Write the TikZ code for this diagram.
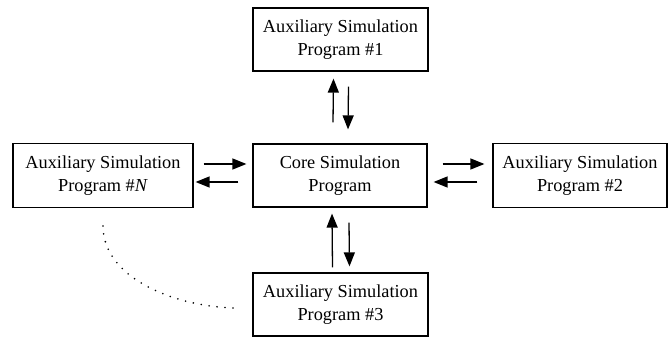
\documentclass[tikz,border=0pt]{standalone}
\usepackage{fontspec}
\setmainfont{Liberation Serif}
\usetikzlibrary{arrows.meta,calc}
\begin{document}
\begin{tikzpicture}[x=1pt,y=1pt,
  box/.style={draw,line width=1.2pt,align=center,inner sep=0pt,
    font=\fontsize{18.3}{22.5}\selectfont},
  arr/.style={line width=1.3pt,-{Triangle[length=14pt,width=11pt]}},
  dotline/.style={line width=1.8pt,line cap=round,dash pattern=on 0pt off 8pt}]
\useasboundingbox (0,0) rectangle (669,337);
\node[box,minimum width=174pt,minimum height=63pt] (core) at (340,161.5) {Core Simulation\\Program};
\node[box,minimum width=175pt,minimum height=63pt] (top) at (340.5,297.5) {Auxiliary Simulation\\Program \#1};
\node[box,minimum width=180pt,minimum height=64pt] (left) at (103,161.5) {Auxiliary Simulation\\Program \#\textit{N}};
\node[box,minimum width=174pt,minimum height=64pt] (right) at (580,161.5) {Auxiliary Simulation\\Program \#2};
\node[box,minimum width=175pt,minimum height=63pt] (bottom) at (340.5,32.5) {Auxiliary Simulation\\Program \#3};
% top pair
\draw[arr] ([shift={(-7,21)}]core.north) -- ([shift={(-7,-7)}]top.south);
\draw[arr] ([shift={(8,-15)}]top.south) -- ([shift={(8,14)}]core.north);
% bottom pair
\draw[arr] ([shift={(-8,5)}]bottom.north) -- ([shift={(-8,-6)}]core.south);
\draw[arr] ([shift={(9,-15)}]core.south) -- ([shift={(9,6)}]bottom.north);
% left pair
\draw[arr] ([shift={(10,11.5)}]left.east) -- ([shift={(-6,11.5)}]core.west);
\draw[arr] ([shift={(-14,-6.5)}]core.west) -- ([shift={(2,-6.5)}]left.east);
% right pair
\draw[arr] ([shift={(15,11.5)}]core.east) -- ([shift={(-8,11.5)}]right.west);
\draw[arr] ([shift={(-15,-6.5)}]right.west) -- ([shift={(6,-6.5)}]core.east);
% dotted curve
\coordinate (d1) at (103,111);
\coordinate (d2) at (238,29);
\draw[dotline] (d1) .. controls (103,57) and (180,29) .. (d2);
\end{tikzpicture}
\end{document}
